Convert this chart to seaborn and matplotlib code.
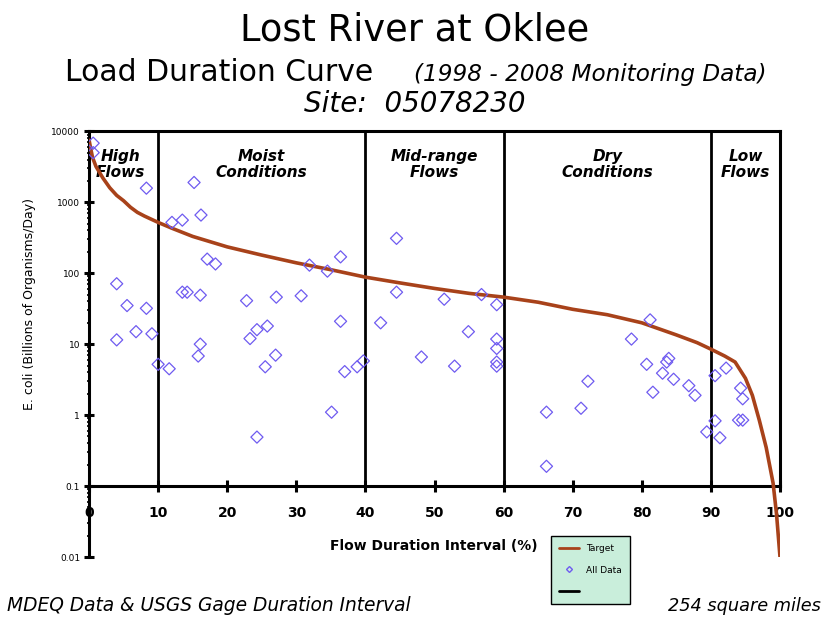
import numpy as np
import pandas as pd
import matplotlib.pyplot as plt
import matplotlib.transforms as mtransforms
from matplotlib.lines import Line2D
import seaborn as sns

# target load duration curve (flow interval %, billions of organisms/day)
target_x = [0, 0.5, 1, 2, 3, 4, 5, 6, 7, 8, 10, 12, 15, 20, 25, 30, 35, 40, 45, 50,
            55, 60, 65, 70, 75, 80, 85, 88, 90, 92, 93.5, 95, 96, 97, 98, 99, 99.5, 100]
target_y = [7500, 4300, 3200, 2200, 1600, 1250, 1050, 850, 720, 640, 520, 430, 330, 235,
            180, 140, 112, 88, 73, 61, 52, 46, 39, 31, 26, 20, 13.5, 10.5, 8.5, 6.8, 5.6,
            3.3, 1.9, 0.85, 0.35, 0.11, 0.04, 0.01]

# monitoring samples
data_x = [0.6, 0.6, 8.3, 4.0, 5.5, 8.3, 4.0, 6.8, 9.1, 10.0, 11.6, 15.2, 12.0, 13.5, 16.2,
          17.1, 18.3, 13.5, 14.2, 16.1, 16.1, 15.8, 22.8, 23.3, 24.3, 25.8, 25.5, 27.0,
          27.1, 30.7, 24.3, 31.9, 34.5, 36.4, 36.4, 37.0, 38.8, 39.7, 35.1, 44.5, 44.5,
          42.2, 48.1, 51.4, 52.9, 54.9, 56.8, 59.0, 59.0, 59.0, 59.0, 59.0, 66.2, 66.2,
          71.2, 72.2, 81.2, 78.5, 80.7, 83.9, 83.6, 83.0, 84.6, 81.6, 86.8, 87.7, 89.4,
          90.6, 90.6, 91.3, 92.2, 94.3, 94.6, 94.0, 94.6]
data_y = [6800, 5000, 1580, 71, 35, 32, 11.5, 15, 14, 5.2, 4.5, 1900, 520, 560, 660,
          158, 135, 54, 54, 49, 10, 6.8, 41, 12, 16, 18, 4.8, 7,
          46, 48, 0.49, 130, 107, 170, 21, 4.1, 4.8, 5.8, 1.1, 310, 54,
          20, 6.6, 43, 4.9, 15, 50, 36, 11.8, 8.7, 5.6, 4.9, 1.1, 0.19,
          1.25, 3.0, 22, 11.8, 5.2, 6.3, 5.6, 3.9, 3.2, 2.1, 2.6, 1.9, 0.58,
          3.6, 0.83, 0.48, 4.6, 2.4, 1.7, 0.85, 0.85]

zone_bounds = [10, 40, 60, 90]
zone_labels = ["High\nFlows", "Moist\nConditions", "Mid-range\nFlows", "Dry\nConditions", "Low\nFlows"]
zone_centers = [4.5, 25, 50, 75, 95]

x_ticks = [0, 10, 20, 30, 40, 50, 60, 70, 80, 90, 100]
y_ticks = [0.01, 0.1, 1, 10, 100, 1000, 10000]
y_ticklabels = ["0.01", "0.1", "1", "10", "100", "1000", "10000"]

curve_df = pd.DataFrame({"x": target_x, "y": target_y})
data_df = pd.DataFrame({"x": data_x, "y": data_y})

sns.set_style("white")
plt.rcParams['font.family'] = ['DejaVu Sans']
plt.rcParams['text.color'] = 'black'
plt.rcParams['xtick.color'] = 'black'
plt.rcParams['ytick.color'] = 'black'

fig = plt.figure(figsize=(8.29, 6.17), dpi=100)
ax = fig.add_axes([0.1074, 0.0972, 0.8335, 0.690])

sns.lineplot(data=curve_df, x="x", y="y", ax=ax, color="#A8421A", linewidth=2.6, zorder=4)
sns.scatterplot(data=data_df, x="x", y="y", ax=ax, marker="D", s=38,
                facecolors="none", edgecolor="#6F5BF0", linewidth=0.9, zorder=5)

ax.set_yscale("log")
ax.set_xlim(0, 100)
ax.set_ylim(0.01, 10000)

# frame only around 0.1 .. 10000
ax.spines['bottom'].set_position(('data', 0.1))
ax.spines['right'].set_bounds(0.1, 10000)
for s in ['left', 'bottom', 'right', 'top']:
    ax.spines[s].set_linewidth(2.2)
    ax.spines[s].set_color("black")
ax.vlines(zone_bounds, 0.1, 10000, color="black", linewidth=2.0, zorder=3)

ax.set_xticks(x_ticks)
ax.set_xticklabels([str(t) for t in x_ticks], fontsize=10, fontweight="bold")
ax.set_yticks(y_ticks)
ax.set_yticklabels(y_ticklabels, fontsize=6.5)
ax.tick_params(axis='x', direction='inout', length=9, width=2.2, pad=10)
ax.tick_params(axis='y', which='major', direction='inout', length=7, width=2.2, pad=3)
ax.tick_params(axis='y', which='minor', direction='inout', length=3, width=1.2)
ax.tick_params(axis='y', which='both', left=True)
ax.tick_params(axis='x', bottom=True)
ax.set_xlabel("")
ax.set_ylabel("")

trans = mtransforms.blended_transform_factory(ax.transData, ax.transAxes)
for cx, lab in zip(zone_centers, zone_labels):
    ax.text(cx, 0.922, lab, transform=trans, ha="center", va="center",
            fontsize=11, fontstyle="italic", fontweight="bold", linespacing=1.1)

fig.text(0.5, 0.951, "Lost River at Oklee", ha="center", va="center", fontsize=26.5)
fig.text(0.078, 0.882, "Load Duration Curve", ha="left", va="center", fontsize=21.5)
fig.text(0.50, 0.880, "(1998 - 2008 Monitoring Data)", ha="left", va="center",
         fontsize=16.7, fontstyle="italic")
fig.text(0.5, 0.831, "Site:  05078230", ha="center", va="center", fontsize=20,
         fontstyle="italic")

fig.text(0.036, 0.507, "E. coli (Billions of Organisms/Day)", rotation=90,
         ha="center", va="center", fontsize=9)
fig.text(0.523, 0.115, "Flow Duration Interval (%)", ha="center", va="center",
         fontsize=10, fontweight="bold")
fig.text(0.008, 0.018, "MDEQ Data & USGS Gage Duration Interval", ha="left",
         va="center", fontsize=13.4, fontstyle="italic")
fig.text(0.99, 0.018, "254 square miles", ha="right", va="center", fontsize=12.8,
         fontstyle="italic")

handles = [Line2D([], [], color="#A8421A", linewidth=2),
           Line2D([], [], marker="D", linestyle="none", markersize=3,
                  markerfacecolor="none", markeredgecolor="#6F5BF0"),
           Line2D([], [], color="black", linewidth=2)]
leg = fig.legend(handles, ["Target", "All Data", ""], loc="upper left",
                 bbox_to_anchor=(0.659, 0.139), fontsize=6.5, frameon=True,
                 fancybox=False, handlelength=2.2, borderpad=0.9, labelspacing=1.4)
leg.get_frame().set_facecolor("#C9EEDB")
leg.get_frame().set_edgecolor("black")
leg.get_frame().set_alpha(1)

fig.savefig("out.png", dpi=100)
